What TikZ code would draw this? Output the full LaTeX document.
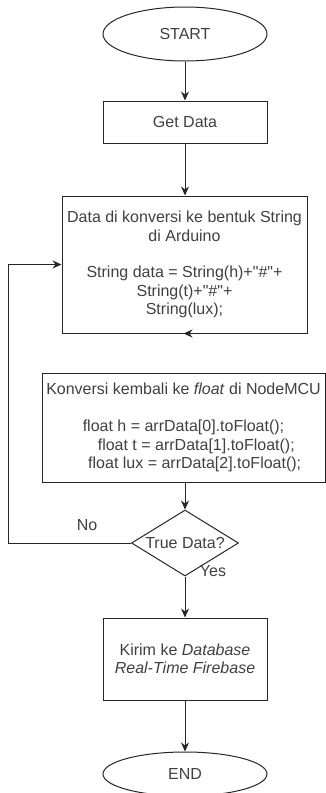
\documentclass[tikz,border=0pt]{standalone}
\usepackage{fontspec}
\newfontfamily\flowfont{Liberation Sans}
\usetikzlibrary{arrows.meta,shapes.geometric}
\definecolor{LineClr}{rgb}{0.15,0.15,0.15}
\definecolor{TextClr}{rgb}{0.25,0.25,0.25}

\begin{document}
\begin{tikzpicture}[x=1pt,y=-1pt,
  every node/.style={font=\flowfont\fontsize{16pt}{18.4pt}\selectfont,text=TextClr},
  terminal/.style={ellipse,draw=LineClr,line width=1pt,inner sep=0pt,
    minimum width=164pt,minimum height=54pt},
  process/.style={rectangle,draw=LineClr,line width=1pt,inner sep=0pt,align=center},
  decision/.style={diamond,draw=LineClr,line width=1pt,inner sep=0pt,shape aspect=1.6,
    minimum width=107pt,minimum height=66pt},
  flow/.style={draw=LineClr,line width=1pt,-{Stealth[length=9pt,width=8pt]}}]
\useasboundingbox (0,0) rectangle (326,793);

% Steps of the flow, top to bottom.
\node[terminal] (start) at (185,34) {START};
\node[process,minimum width=164pt,minimum height=42pt] (getdata) at (185,122) {Get Data};
\node[process,minimum width=245pt,minimum height=137pt] (toString) at (184.5,264.5)
  {Data di konversi ke bentuk String\\ di Arduino\\[18.4pt]
   String data = String(h)+"\#"+\\ String(t)+"\#"+\\ String(lux);};
\node[process,minimum width=283pt,minimum height=109pt] (toFloat) at (183.5,427.5)
  {Konversi kembali ke \textit{float} di NodeMCU\\[18.4pt]
   float h = arrData[0].toFloat();\\
   \hspace*{1.6em}float t = arrData[1].toFloat();\\
   \hspace*{1.4em}float lux = arrData[2].toFloat();};
\node[decision] (check) at (185,543) {True Data?};
\node[process,minimum width=164pt,minimum height=82pt] (firebase) at (185,659)
  {Kirim ke \textit{Database}\\ \textit{Real-Time Firebase}};
\node[terminal,minimum height=44pt] (end) at (185,774) {END};

% Labels of the decision.
\node (no) at (87,525) {No};
\node (yes) at (213,571) {Yes};

% Corner of the loop back.
\coordinate (loop) at (8,543);

% Connectors.
\draw[flow] (start) -- (getdata);
\draw[flow] (getdata) -- (getdata |- toString.north);
\draw[flow] (toString.south) -- (toString.south -| toFloat.north);
\draw[flow] (toFloat.south -| check.north) -- (check.north);
\draw[flow] (check) -- (firebase);
\draw[flow] (firebase) -- (end);
\draw[flow] (check.west) -- (loop) |- (toString.west);

\end{tikzpicture}
\end{document}
